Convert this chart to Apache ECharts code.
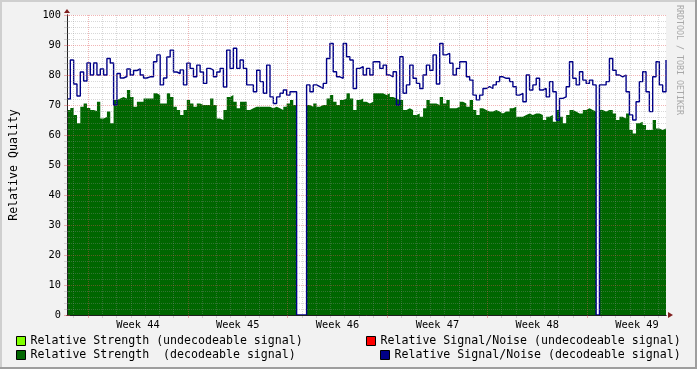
<!DOCTYPE html>
<html><head><meta charset="utf-8">
<script src="https://cdn.jsdelivr.net/npm/echarts@6/dist/echarts.min.js"></script>
<style>html,body{margin:0;padding:0;background:#f2f2f2}#c{width:697px;height:369px}</style>
</head><body><div id="c"></div>
<script>
// ---- data ----
const weekLabels = ['Week 44', 'Week 45', 'Week 46', 'Week 47', 'Week 48', 'Week 49'];
const spanDays = 42;          // x range of the plot, in days
const firstWeekStart = 1.47;  // day offset of the first week boundary
const yMin = 0, yMax = 100, yStep = 10;

const seriesNames = [
  'Relative Strength (undecodeable signal)',
  'Relative Strength  (decodeable signal)',
  'Relative Signal/Noise (undecodeable signal)',
  'Relative Signal/Noise (decodeable signal)'
];

const strengthDecodeable = [
  68.3,69,66.7,63.9,69.4,70.5,69,68.3,68,71.1,65.5,66,67.8,63.9,71.7,72.2,72.7,72.2,75,72.7,69.4,71.1,71.1,72.2,72.2,72.2,73.9,73.3,70.5,70.5,73.9,72.7,69.4,68.3,66.7,68.3,
  71.7,70.5,69.4,70.5,70,70,70,72.2,70,65.5,65,68.3,72.7,73.3,71.1,68.9,71.1,71.1,68.3,68.9,69.4,69.4,69.4,69.4,69.4,68.9,69.4,68.9,68.3,69.4,70.5,71.7,70,0,0,0,
  70,69.4,70.5,69.4,70,70,72.2,73.3,71.1,70,71.7,72.2,73.9,72.2,68.3,71.7,72.2,71.1,70.5,71.1,73.9,73.9,73.9,73.3,73.9,72.7,72.2,71.7,71.7,68.3,68.9,68.3,66.7,67.2,66.1,68.9,
  71.7,70.5,70.5,70,72.7,70.5,71.7,68.9,68.9,69.4,71.1,70.5,69.4,71.7,68.3,66.7,68.9,68.3,67.8,67.8,68.3,67.8,67.2,67.8,67.8,68.9,69.4,66.1,66.1,66.7,67.2,66.7,67.2,67.2,66.7,65,
  66.1,66.7,64.4,68.3,66.1,63.9,66.7,68.3,67.8,67.2,67.2,68.3,68.9,68.3,67.8,0,68.3,67.8,68.3,68.3,67.2,65,66.1,65.5,67.2,61.7,60.5,63.9,64.4,63.3,61.7,61.7,65,62.2,61.7,62.2,65
];
const snrDecodeable = [
  72,85,77,73,81,78,84,80,84,80,82,80,85.5,84,70,80.5,79,79.5,82,80,81.5,82,80,79,79.4,79.4,84.4,86.7,76.7,79,86,88.3,81,80.5,81.7,76.7,
  83.9,82.2,79.4,83.3,81,77.2,82.2,81.6,79.4,81,82.2,76,88.3,82.2,88.9,82.2,85,82.2,76.7,76.7,74.4,81.6,77.8,73.9,83.3,72.7,70.5,72.7,73.9,75,73.3,74.4,74.4,0,0,0,
  76.7,74.4,76.7,76.1,75.5,77.2,85.5,90.5,81.1,79.4,78.9,90.5,86.1,85,75.5,82.2,82.8,80,82.2,80,84.4,84.4,82.2,83.3,80,79.4,81.1,70,86.1,73.9,76.7,83.3,78.9,77.2,75.5,80,
  83.3,81.6,86.7,77,90.5,86.7,87.2,83.9,80,82.2,84.4,84.4,79.4,78.3,73.3,71.7,73.3,75.5,76.1,75.5,76.7,77.8,79.4,78.9,78.9,77.8,76.1,73.3,73.9,71.1,80,75,76.7,78.9,75,75.5,
  72.7,77.8,74.4,65,72.2,72.7,76.1,84.4,78.9,76.7,81.1,78.3,77.2,78.3,76.7,0,76.7,76.7,77.8,85.5,81.6,80,79.4,80,74.4,66.7,65,71.1,77.8,81.1,74.4,67.8,79.4,84.4,76.7,74.4,85
];
const strengthUndecodeable = [];
const snrUndecodeable = [];

// ---- build ----
const n = strengthDecodeable.length;
const toXY = arr => arr.map((v, i) => [i * spanDays / (n - 1), v]);
const weekLines = weekLabels.map((_, k) => firstWeekStart + 7 * k);
const labelValues = weekLabels.map((_, k) => firstWeekStart + 3.5 + 7 * k);
const dayLines = [];
for (let d = firstWeekStart - 1; d < spanDays; d += 1) {
  const rel = Math.round((d - firstWeekStart) * 1000) / 1000;
  if (d > 0 && Math.abs(rel % 7) > 1e-6) dayLines.push(d);
}

const MONO = 'DejaVu Sans Mono';
const gridCol = 'rgba(143,143,143,0.35)';
const mgridCol = 'rgba(222,79,79,0.42)';
const axisCol = '#1f1f1f';
const arrowCol = '#801f1f';

const chart = echarts.init(document.getElementById('c'), null, {renderer: 'canvas'});
const legendBase = {
  orient: 'vertical', padding: 0, itemWidth: 9, itemHeight: 9, itemGap: 0,
  icon: 'rect', selectedMode: false,
  itemStyle: {borderColor: '#000', borderWidth: 1},
  textStyle: {fontFamily: MONO, fontSize: 11.6, color: '#000', lineHeight: 14}
};
chart.setOption({
  animation: false,
  backgroundColor: '#f2f2f2',
  grid: {left: 66, top: 15, width: 600, height: 300, show: true, backgroundColor: '#ffffff', borderWidth: 0},
  legend: [
    Object.assign({}, legendBase, {left: 16, top: 334, data: [seriesNames[0], seriesNames[1]]}),
    Object.assign({}, legendBase, {left: 366, top: 334, data: [seriesNames[2]]}),
    Object.assign({}, legendBase, {left: 380, top: 348, data: [seriesNames[3]]})
  ],
  xAxis: [
    {
      type: 'value', min: 0, max: spanDays, position: 'bottom', z: 6,
      axisLine: {show: true, lineStyle: {color: axisCol, width: 1}},
      axisTick: {show: true, customValues: weekLines, length: 3, lineStyle: {color: mgridCol}},
      splitLine: {show: true, lineStyle: {color: mgridCol, type: [1, 1], width: 1}},
      axisLabel: {
        customValues: labelValues, margin: 5,
        fontFamily: MONO, fontSize: 10.3, color: '#000',
        formatter: v => weekLabels[Math.round((v - firstWeekStart - 3.5) / 7)]
      }
    },
    {
      type: 'value', min: 0, max: spanDays, position: 'bottom', z: 5,
      axisLine: {show: false},
      axisTick: {show: true, customValues: dayLines, length: 3, lineStyle: {color: gridCol}},
      splitLine: {show: true, lineStyle: {color: gridCol, type: [1, 1], width: 1}},
      axisLabel: {show: false}
    },
    {
      type: 'value', min: 0, max: spanDays, position: 'bottom', z: 4,
      axisLine: {show: true, symbol: ['none', 'triangle'], symbolSize: [6, 5], symbolOffset: [0, 4.5], lineStyle: {color: arrowCol, width: 1}},
      axisTick: {show: false}, splitLine: {show: false}, axisLabel: {show: false}
    }
  ],
  yAxis: [
    {
      type: 'value', min: yMin, max: yMax, interval: yStep, position: 'left', z: 6,
      name: 'Relative Quality', nameLocation: 'middle', nameGap: 47,
      nameTextStyle: {fontFamily: MONO, fontSize: 11.6, color: '#000'},
      axisLine: {show: true, lineStyle: {color: axisCol, width: 1}},
      axisTick: {show: true, length: 3, lineStyle: {color: mgridCol}},
      minorTick: {show: true, splitNumber: 5, length: 3, lineStyle: {color: gridCol}},
      splitLine: {show: true, lineStyle: {color: mgridCol, type: [1, 1], width: 1}},
      minorSplitLine: {show: true, lineStyle: {color: gridCol, type: [1, 1], width: 1}},
      axisLabel: {margin: 6, fontFamily: MONO, fontSize: 10.3, color: '#000'}
    },
    {
      type: 'value', min: yMin, max: yMax, interval: yStep, position: 'right', z: 6,
      axisLine: {show: false},
      axisTick: {show: true, length: 3, lineStyle: {color: mgridCol}},
      minorTick: {show: true, splitNumber: 5, length: 3, lineStyle: {color: gridCol}},
      splitLine: {show: false}, axisLabel: {show: false}
    },
    {
      type: 'value', min: yMin, max: yMax, position: 'left', z: 4,
      axisLine: {show: true, symbol: ['none', 'triangle'], symbolSize: [6, 4], symbolOffset: [0, 4], lineStyle: {color: arrowCol, width: 1}},
      axisTick: {show: false}, splitLine: {show: false}, axisLabel: {show: false}
    }
  ],
  series: [
    {
      name: seriesNames[0], type: 'line', data: toXY(strengthUndecodeable), step: 'end',
      showSymbol: false, itemStyle: {color: '#80ff00'}, lineStyle: {width: 0},
      areaStyle: {color: '#80ff00', opacity: 1}
    },
    {
      name: seriesNames[1], type: 'line', data: toXY(strengthDecodeable), step: 'end',
      showSymbol: false, itemStyle: {color: '#006600'}, lineStyle: {width: 0, color: '#006600'},
      areaStyle: {color: '#006600', opacity: 1}
    },
    {
      name: seriesNames[2], type: 'line', data: toXY(snrUndecodeable), step: 'end',
      showSymbol: false, itemStyle: {color: '#ff0000'}, lineStyle: {width: 1, color: '#ff0000'}
    },
    {
      name: seriesNames[3], type: 'line', data: toXY(snrDecodeable), step: 'end',
      showSymbol: false, itemStyle: {color: '#000088'}, lineStyle: {width: 1.4, color: '#000088'}
    }
  ],
  graphic: [
    {type: 'rect', silent: true, z: 100, shape: {x: 0, y: 0, width: 697, height: 2}, style: {fill: '#cfcfcf'}},
    {type: 'rect', silent: true, z: 100, shape: {x: 0, y: 0, width: 2, height: 369}, style: {fill: '#cfcfcf'}},
    {type: 'rect', silent: true, z: 100, shape: {x: 0, y: 367, width: 697, height: 2}, style: {fill: '#9e9e9e'}},
    {type: 'rect', silent: true, z: 100, shape: {x: 695, y: 0, width: 2, height: 369}, style: {fill: '#9e9e9e'}},
    {
      type: 'text', silent: true, z: 100, x: 683, y: 5, rotation: -Math.PI / 2,
      style: {text: 'RRDTOOL / TOBI OETIKER', font: '8.3px "DejaVu Sans Mono"', fill: '#a8a8a8', textAlign: 'left', textVerticalAlign: 'top'}
    }
  ]
});
</script>
</body></html>
